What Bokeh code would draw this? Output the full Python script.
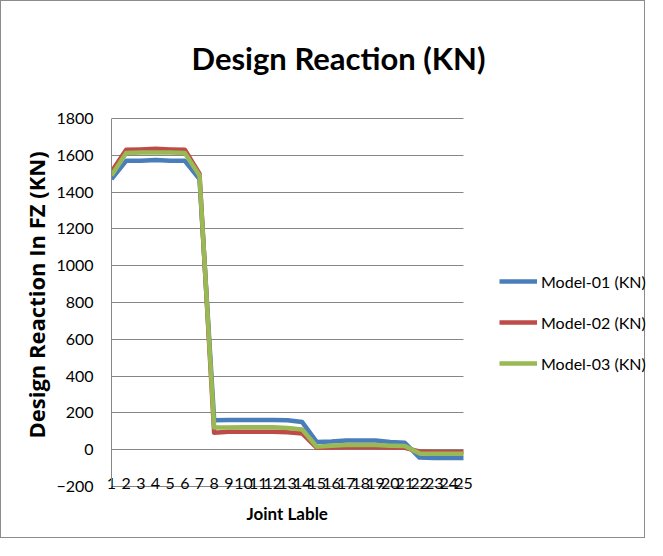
from bokeh.plotting import figure
from bokeh.models import Legend, LegendItem, Label, Title, FixedTicker, Range1d
from bokeh.embed import file_html
from bokeh.resources import INLINE

joints = list(range(1, 26))
model_01 = [1470, 1570, 1570, 1575, 1570, 1570, 1470, 160, 162, 162, 162, 162, 160, 150,
            42, 45, 50, 50, 50, 42, 38, -43, -45, -45, -45]
model_02 = [1510, 1630, 1632, 1635, 1632, 1630, 1500, 92, 97, 98, 98, 98, 95, 88,
            10, 12, 13, 13, 13, 12, 10, -10, -12, -12, -12]
model_03 = [1490, 1612, 1615, 1615, 1615, 1612, 1490, 120, 120, 122, 122, 122, 118, 110,
            16, 22, 25, 25, 25, 22, 20, -20, -22, -22, -22]
series_names = ["Model-01 (KN)", "Model-02 (KN)", "Model-03 (KN)"]
colors = ["#4A7EBB", "#BE4B48", "#98B954"]
y_ticks = list(range(-200, 2000, 200))

W, H = 645, 538
# plot-area pixel geometry (frame spans everything right/above of the axes)
PL, PR, PT, PB = 110, 462, 117, 485
x0, x1, y0, y1 = 1, 25, -200, 1800
ux = (x1 - x0) / (PR - PL)
uy = (y1 - y0) / (PB - PT)
x_end = x1 + (W - PR) * ux
y_end = y1 + PT * uy

p = figure(width=W, height=H, output_backend="svg", toolbar_location=None,
           x_range=Range1d(x0, x_end), y_range=Range1d(y0, y_end),
           min_border_left=PL, min_border_right=0, min_border_top=0,
           min_border_bottom=H - PB,
           styles={"border": "1px solid #8c8c8c"})
p.outline_line_color = None
p.background_fill_color = "white"
p.border_fill_color = "white"

renderers = []
for ys, c in zip([model_01, model_02, model_03], colors):
    r = p.line(joints, ys, line_color=c, line_width=4.5, line_join="round")
    renderers.append(r)

p.xgrid.grid_line_color = None
p.ygrid.grid_line_color = "#868686"
p.ygrid.grid_line_width = 1
p.ygrid.ticker = FixedTicker(ticks=y_ticks)
p.ygrid.cross_bounds = (x0, x1)

p.yaxis.ticker = FixedTicker(ticks=y_ticks)
p.xaxis.ticker = FixedTicker(ticks=joints)
p.yaxis.bounds = (y0, y1)
p.xaxis.bounds = (x0, x1)
for ax in (p.xaxis[0], p.yaxis[0]):
    ax.axis_line_color = "#868686"
    ax.major_tick_line_color = None
    ax.minor_tick_line_color = None
    ax.major_label_text_font = "Lato"
    ax.major_label_text_font_size = "16px"
    ax.major_label_text_color = "#000000"

p.yaxis.major_label_standoff = 12
p.xaxis.major_label_standoff = -15

# axis titles, placed along the plot area (not the whole frame)
ytitle = Title(text="Design Reaction In FZ (KN)", align="left", offset=PB - 437, standoff=5,
               text_font="Open Sans", text_font_style="bold", text_font_size="22px",
               text_color="#000000")
p.add_layout(ytitle, "left")
xtitle = Title(text="Joint Lable", align="left", offset=245 - PL, standoff=18,
               text_font="Lato", text_font_style="bold", text_font_size="17px",
               text_color="#000000")
p.add_layout(xtitle, "below")

title = Label(x=x0 + (337 - PL) * ux, y=y0 + (PB - 56) * uy,
              text="Design Reaction (KN)", text_align="center", text_baseline="middle",
              text_font="Lato", text_font_style="bold", text_font_size="31px",
              text_color="#000000")
p.add_layout(title)

legend = Legend(items=[LegendItem(label=n, renderers=[r]) for n, r in zip(series_names, renderers)],
                location=(498 - PL, PB - 372), glyph_width=38, glyph_height=20, label_height=20,
                label_standoff=4, spacing=21, padding=0, margin=0,
                border_line_color=None, background_fill_alpha=0,
                label_text_font="Lato", label_text_font_size="16px", label_text_color="#000000")
p.add_layout(legend, "center")

open("out.html", "w").write(file_html(p, INLINE))
